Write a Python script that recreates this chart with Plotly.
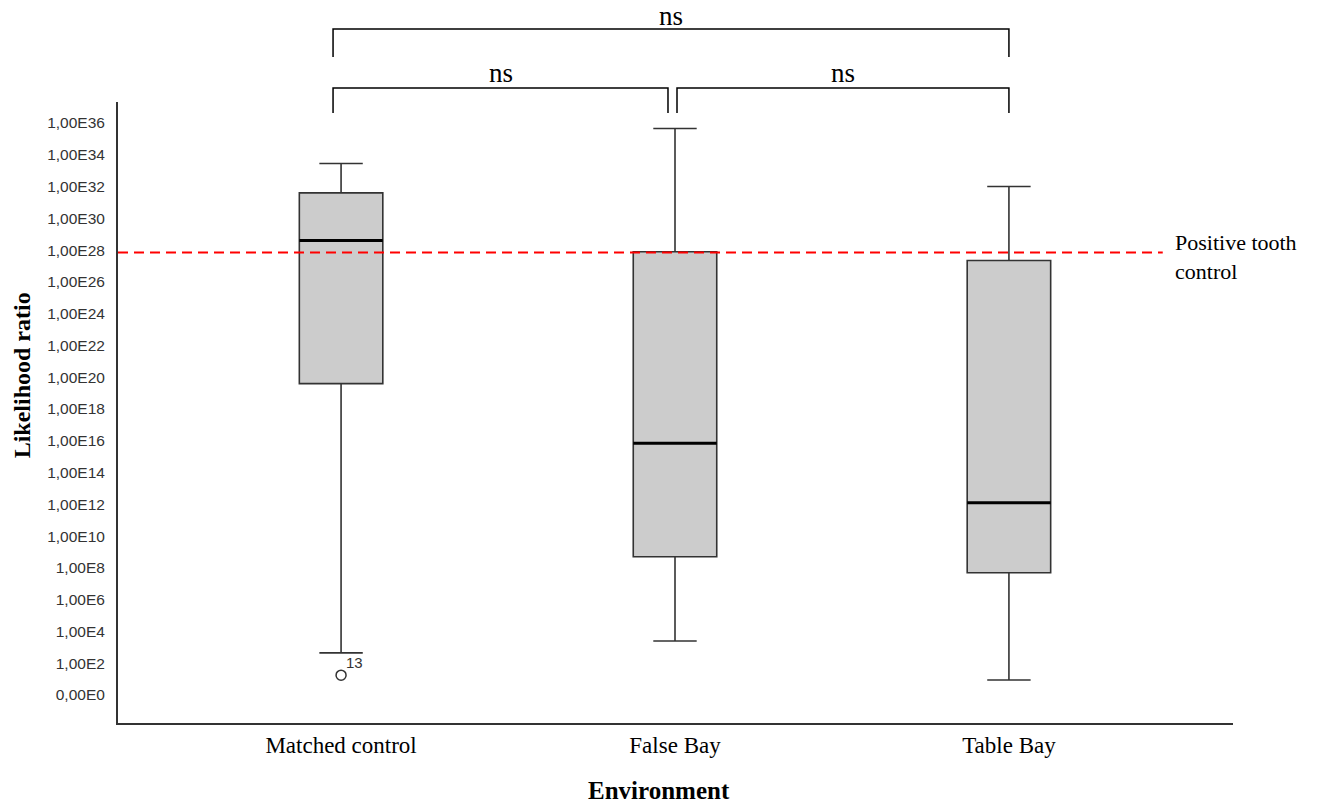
import plotly.graph_objects as go

# ---- data (values are log10 of likelihood ratio) ----
categories = ["Matched control", "False Bay", "Table Bay"]
cat_pos = [1, 2, 3]
upper_whisker = [33.45, 35.65, 32.0]
q3_vals = [31.6, 27.9, 27.35]
median_vals = [28.6, 15.85, 12.1]
q1_vals = [19.6, 8.7, 7.7]
lower_whisker = [2.65, 3.4, 0.95]
outlier_x = [1]
outlier_y = [1.25]
outlier_labels = ["13"]
positive_control = 27.85
ytick_vals = list(range(0, 37, 2))
ytick_text = ["0,00E0"] + ["1,00E%d" % v for v in ytick_vals[1:]]

BOX_W = 0.25
fig = go.Figure()

for i in range(3):
    fig.add_trace(go.Box(
        x=[cat_pos[i]], q1=[q1_vals[i]], median=[median_vals[i]], q3=[q3_vals[i]],
        lowerfence=[lower_whisker[i]], upperfence=[upper_whisker[i]],
        width=BOX_W, whiskerwidth=0.52, fillcolor="#cccccc",
        line=dict(color="#333333", width=1.6), boxpoints=False,
        hoverinfo="skip", showlegend=False))
    # thicker median line
    fig.add_trace(go.Scatter(
        x=[cat_pos[i] - BOX_W / 2, cat_pos[i] + BOX_W / 2],
        y=[median_vals[i], median_vals[i]], mode="lines",
        line=dict(color="black", width=3), showlegend=False, hoverinfo="skip"))

fig.add_trace(go.Scatter(
    x=outlier_x, y=outlier_y, mode="markers",
    marker=dict(symbol="circle-open", size=10, color="#333333", line=dict(width=1.5)),
    showlegend=False, hoverinfo="skip"))
for ox, oy, ol in zip(outlier_x, outlier_y, outlier_labels):
    fig.add_annotation(x=ox, y=oy, text=ol, showarrow=False, xanchor="left",
                       yanchor="bottom", xshift=3, yshift=2,
                       font=dict(family="Liberation Sans, Arial", size=15, color="#333333"))

# positive control dashed line
fig.add_shape(type="line", xref="paper", yref="y", x0=0, x1=0.937,
              y0=positive_control, y1=positive_control,
              line=dict(color="#ff0000", width=2, dash="10px,6px"))
fig.add_annotation(xref="paper", yref="y", x=0.946, y=positive_control - 0.3,
                   text="Positive tooth<br>control", showarrow=False, xanchor="left",
                   yanchor="middle", align="left",
                   font=dict(family="Liberation Serif, Times New Roman", size=22, color="black"))

# significance brackets (x in data coordinates of category positions)
def bracket(x0, x1, ytop, ybot, label, ylabel):
    fig.add_shape(type="path", xref="x", yref="paper",
                  path=f"M {x0},{ybot} L {x0},{ytop} L {x1},{ytop} L {x1},{ybot}",
                  line=dict(color="black", width=1.5))
    fig.add_annotation(xref="x", yref="paper", x=(x0 + x1) / 2, y=ylabel, text=label,
                       showarrow=False, yanchor="middle",
                       font=dict(family="Liberation Serif, Times New Roman", size=27, color="black"))

bracket(0.976, 3.0, 1.1176, 1.0725, "ns", 1.139)
bracket(0.976, 1.979, 1.0225, 0.9823, "ns", 1.046)
bracket(2.006, 3.0, 1.0225, 0.9823, "ns", 1.046)

fig.update_layout(
    width=1318, height=808,
    margin=dict(l=118, r=85, t=102, b=85),
    paper_bgcolor="white", plot_bgcolor="white",
    xaxis=dict(range=[0.332, 3.671], tickvals=cat_pos, ticktext=categories,
               showgrid=False, zeroline=False, showline=True, linecolor="#333333",
               linewidth=2, ticks="",
               tickfont=dict(family="Liberation Serif, Times New Roman", size=23, color="black")),
    yaxis=dict(range=[-1.76, 37.32], tickvals=ytick_vals, ticktext=ytick_text,
               showgrid=False, zeroline=False, showline=True, linecolor="#333333",
               linewidth=2, ticks="", ticklabelstandoff=8,
               tickfont=dict(family="Liberation Sans, Arial", size=15.5, color="#333333")),
)

fig.add_annotation(xref="paper", yref="paper", x=0.485, y=-0.1095, text="<b>Environment</b>",
                   showarrow=False, yanchor="middle",
                   font=dict(family="Liberation Serif, Times New Roman", size=25, color="black"))
fig.add_annotation(xref="paper", yref="paper", x=-0.086, y=0.56, text="<b>Likelihood ratio</b>",
                   showarrow=False, textangle=-90, xanchor="center", yanchor="middle",
                   font=dict(family="Liberation Serif, Times New Roman", size=24, color="black"))

fig.write_html("out.html", config={"displayModeBar": False},
               post_script="document.body.style.margin='0';")
